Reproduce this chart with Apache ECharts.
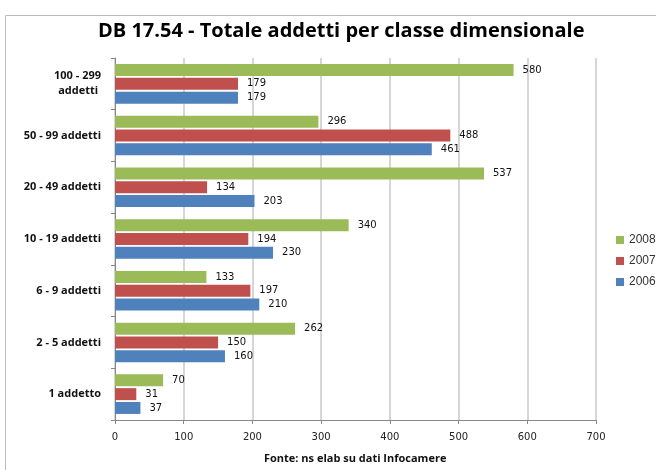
<!DOCTYPE html>
<html>
<head>
<meta charset="utf-8">
<script src="https://cdn.jsdelivr.net/npm/echarts@6/dist/echarts.min.js"></script>
<style>
  html, body { margin: 0; padding: 0; background: #fff; }
  #chart { width: 656px; height: 470px; }
</style>
</head>
<body>
<div id="chart"></div>
<script>
const categories = ['1 addetto', '2 - 5 addetti', '6 - 9 addetti', '10 - 19 addetti', '20 - 49 addetti', '50 - 99 addetti', '100 - 299\naddetti '];
const values2006 = [37, 160, 210, 230, 203, 461, 179];
const values2007 = [31, 150, 197, 194, 134, 488, 179];
const values2008 = [70, 262, 133, 340, 537, 296, 580];
const xTicks = [0, 100, 200, 300, 400, 500, 600, 700];

const chart = echarts.init(document.getElementById('chart'));

const labelStyle = {
    show: true,
    position: 'right',
    distance: 9,
    fontSize: 10,
    color: '#111',
    fontFamily: 'DejaVu Sans'
};

const makeSeries = (name, data, color) => ({
    name: name,
    type: 'bar',
    data: data,
    barWidth: 12,
    barGap: '15%',
    itemStyle: { color: color },
    label: labelStyle,
    emphasis: { disabled: true }
});

const option = {
    animation: false,
    textStyle: { fontFamily: 'Open Sans' },
    title: {
        text: 'DB 17.54 - Totale addetti per classe dimensionale',
        left: 93,
        top: 16,
        textStyle: { fontSize: 20, fontWeight: 'bold', color: '#000', fontFamily: 'Open Sans' }
    },
    legend: {
        orient: 'vertical',
        left: 611,
        top: 229,
        itemWidth: 8,
        itemHeight: 8,
        itemGap: 9,
        icon: 'rect',
        data: ['2008', '2007', '2006'],
        textStyle: { fontSize: 12, color: '#333', fontFamily: 'Liberation Sans' }
    },
    grid: { left: 115, right: 60, top: 58, bottom: 50 },
    xAxis: {
        type: 'value',
        min: xTicks[0],
        max: xTicks[xTicks.length - 1],
        interval: 100,
        axisLine: { show: true, lineStyle: { color: '#888' } },
        axisTick: { show: true, length: 4, lineStyle: { color: '#888' } },
        axisLabel: { fontSize: 10, color: '#222', margin: 12, fontFamily: 'DejaVu Sans' },
        splitLine: { show: true, lineStyle: { color: '#c8c8c8', width: 1.5 } }
    },
    yAxis: {
        type: 'category',
        data: categories,
        axisLine: { show: true, lineStyle: { color: '#888' } },
        axisTick: { show: true, length: 4, lineStyle: { color: '#888' } },
        axisLabel: { fontSize: 11, fontWeight: 'bold', color: '#111', margin: 14, lineHeight: 15, align: 'right' },
        splitLine: { show: false }
    },
    series: [
        makeSeries('2008', values2008, '#9BBB59'),
        makeSeries('2007', values2007, '#C0504D'),
        makeSeries('2006', values2006, '#4F81BD')
    ],
    graphic: [
        {
            type: 'polyline',
            shape: { points: [[5.5, 470], [5.5, 15.5], [656, 15.5]] },
            style: { stroke: '#bbb', lineWidth: 1, fill: null }
        },
        {
            type: 'text',
            left: 264,
            top: 453,
            style: { text: 'Fonte: ns elab su dati Infocamere', fontSize: 11, fontWeight: 'bold', fill: '#111', fontFamily: 'Open Sans' }
        }
    ]
};

chart.setOption(option);
</script>
</body>
</html>
